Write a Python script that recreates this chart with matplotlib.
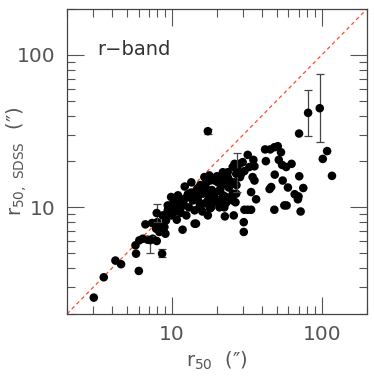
import matplotlib
matplotlib.use("Agg")
import matplotlib.pyplot as plt
from matplotlib.ticker import LogLocator, NullFormatter, FixedLocator

# r50 (this work) vs r50 from SDSS, arcsec
r50 = [3.02, 3.52, 4.21, 4.59, 5.73, 5.78, 6.03, 6.08, 6.4, 6.9, 7.47, 7.94, 6.67, 7.39,
       7.86, 8.27, 8.71, 9.07, 9.15, 9.9, 9.4, 10.4, 11.8, 14.2,
       9.9, 10.7, 8.0, 8.93, 9.65, 10.4, 11.5, 12.5, 14.2, 14.5, 13.8, 14.9, 15.3, 16.1,
       16.9, 17.4, 18.3, 17.4, 16.5, 15.3, 19.3, 20.3, 21.3, 22.4, 23.6, 20.8, 23.0, 25.5,
       22.4, 18.8, 13.1, 12.2, 11.2, 10.2, 9.4, 8.7, 16.5, 17.8, 21.9, 23.6, 25.5, 26.2,
       28.3, 12.2, 13.5, 22.6, 20.8, 20.1, 18.0, 21.1, 26.6, 25.9, 23.0,
       11.0, 12.0, 13.0, 14.0, 15.0, 16.0, 17.0, 18.5, 19.5, 20.0, 22.0, 24.0, 15.5, 13.5,
       11.5, 10.8, 12.8, 14.8, 17.8, 19.0, 21.5, 24.5, 27.0, 18.0, 16.0, 27.5, 29.0,
       32.1, 35.0, 35.6, 29.7, 30.5, 34.6, 35.6, 36.5, 33.8, 30.5, 32.1, 33.8, 30.2, 30.2,
       26.9, 28.5, 26.2, 24.2, 25.5, 32.9, 26.9,
       41.9, 42.4, 45.3, 48.3, 50.9, 53.5, 51.7, 54.4, 48.6, 44.9, 46.0, 48.3, 54.9, 56.3,
       58.3, 59.5, 57.9, 62.9, 66.0, 69.3, 70.8, 72.3, 75.3, 70.0, 70.6, 101.6, 108.6, 117.0]
r50_sdss = [2.56, 3.48, 4.48, 4.24, 5.64, 4.97, 3.83, 6.08, 6.23, 6.14, 6.23, 6.02, 7.74, 7.9,
            7.25, 6.9, 7.43, 6.72, 8.2, 8.86, 10.3, 9.8, 7.14, 7.82,
            11.7, 11.1, 8.0, 7.43, 10.0, 9.32, 10.0, 8.86, 9.56, 7.82, 11.1, 11.7, 12.9, 12.3,
            13.3, 11.1, 10.0, 8.86, 10.6, 10.0, 15.0, 14.6, 15.4, 14.3, 15.8, 12.9, 11.7, 11.1,
            10.0, 11.7, 11.7, 11.4, 10.8, 10.6, 9.56, 8.86, 15.8, 16.2, 17.0, 17.0, 18.4, 19.3,
            19.3, 13.7, 14.6, 8.73, 10.0, 11.2, 9.85, 13.2, 10.8, 8.86, 10.7,
            12.0, 10.5, 10.0, 12.5, 11.0, 13.8, 14.5, 13.0, 12.5, 16.0, 12.0, 13.5, 14.0, 12.5,
            9.2, 8.3, 12.2, 13.3, 12.2, 10.8, 11.2, 14.8, 14.0, 15.0, 9.4, 17.5, 16.6,
            22.1, 20.5, 18.6, 19.8, 17.3, 15.8, 15.0, 11.3, 12.6, 9.65, 9.65, 9.65, 8.0, 6.9,
            16.6, 15.8, 14.6, 15.0, 12.3, 18.4, 12.3,
            24.0, 20.1, 24.0, 24.8, 25.2, 23.0, 20.5, 19.0, 16.4, 13.2, 13.6, 9.65, 15.0, 10.3,
            10.3, 13.5, 18.4, 19.3, 12.2, 11.3, 16.0, 9.4, 13.4, 11.8, 30.5, 20.8, 23.4, 16.1]

# points with error bars
err_x = [7.2, 8.62, 7.94, 27.4, 81.1, 97.0, 17.4]
err_y = [6.1, 4.97, 9.18, 16.9, 41.7, 44.7, 31.6]
err_lo = [5.0, 4.7, 8.0, 12.6, 29.5, 26.7, 30.5]
err_hi = [6.45, 5.3, 10.6, 22.8, 59.0, 75.0, 32.8]

grey = "#555555"
plt.rcParams["font.family"] = "DejaVu Sans"
fig = plt.figure(figsize=(3.74, 3.76), dpi=100)
ax = fig.add_axes([0.179, 0.165, 0.802, 0.811])

ax.plot([2, 200], [2, 200], ls=(0, (3, 2.5)), color="#ff4a2a", lw=0.9, zorder=1)

yerr = [[y - lo for y, lo in zip(err_y, err_lo)], [hi - y for y, hi in zip(err_y, err_hi)]]
ax.errorbar(err_x, err_y, yerr=yerr, fmt="none", ecolor="#444444",
            elinewidth=0.9, capsize=3, capthick=0.9, zorder=3)
ax.scatter(err_x, err_y, s=38, color="black", edgecolors="none", zorder=4)
ax.scatter(r50, r50_sdss, s=38, color="black", edgecolors="none", zorder=2)

ax.set_xscale("log")
ax.set_yscale("log")
ax.set_xlim(2, 200)
ax.set_ylim(2, 200)

for axis in (ax.xaxis, ax.yaxis):
    axis.set_major_locator(FixedLocator([10, 100]))
    axis.set_minor_locator(LogLocator(base=10, subs=range(2, 10)))
    axis.set_minor_formatter(NullFormatter())
ax.set_xticklabels(["10", "100"])
ax.set_yticklabels(["10", "100"])

ax.tick_params(which="both", direction="in", top=True, right=True, color=grey, width=0.8,
               labelsize=14.5, labelcolor=grey)
ax.tick_params(which="major", length=12, pad=8)
ax.tick_params(which="minor", length=6)
for sp in ax.spines.values():
    sp.set_color("#444444")
    sp.set_linewidth(0.9)

ax.set_xlabel(r"r$_{50}$  (″)", fontsize=14, color=grey, labelpad=4)
fig.text(17 / 374, 0.57, r"r$_{\rm 50,\ SDSS}$  (″)", rotation=90, fontsize=14, color=grey,
         ha="center", va="center")
ax.text(0.1, 0.85, "r−band", transform=ax.transAxes, fontsize=14, color="#333333")

fig.savefig("out.png", dpi=100)
